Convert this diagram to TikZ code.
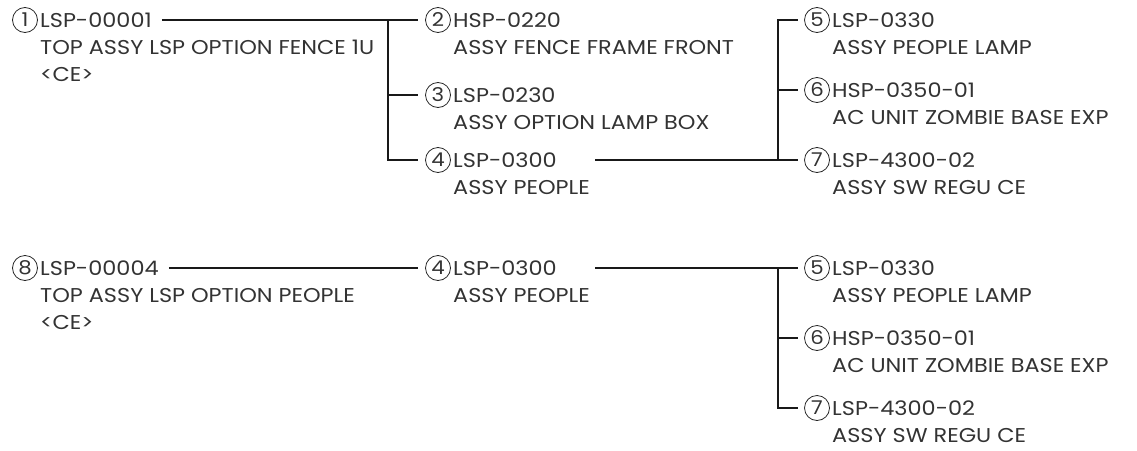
\documentclass[tikz,border=0pt]{standalone}
\usepackage{fontspec}
\setmainfont{Poppins}[FakeStretch=1.12]
\begin{document}
\begin{tikzpicture}[x=1pt,y=-1pt,
  lbl/.style={font=\fontsize{20}{27}\selectfont, text=black!80, anchor=base west, inner sep=0pt},
  num/.style={circle, draw=black!85, line width=0.8pt, minimum size=25pt, inner sep=0pt,
              font=\fontsize{19}{19}\selectfont, text=black!80},
  conn/.style={line width=1.8pt, draw=black!90},
]
\useasboundingbox (0,0) rectangle (1137,450);

% ---------- row 1 ----------
\node[num] (c1) at (25,20) {1};
\node[lbl] (t1a) at (40,27) {LSP-00001};
\node[lbl] (t1b) at (40,54) {TOP ASSY LSP OPTION FENCE 1U};
\node[lbl] (t1c) at (40,81) {<CE>};

\node[num] (c2) at (438,20) {2};
\node[lbl] (t2a) at (453,27) {HSP-0220};
\node[lbl] (t2b) at (453,54) {ASSY FENCE FRAME FRONT};

\node[num] (c3) at (438,95) {3};
\node[lbl] (t3a) at (453,102) {LSP-0230};
\node[lbl] (t3b) at (453,129) {ASSY OPTION LAMP BOX};

\node[num] (c4) at (438,160) {4};
\node[lbl] (t4a) at (453,167) {LSP-0300};
\node[lbl] (t4b) at (453,194) {ASSY PEOPLE};

\node[num] (c5) at (817,20) {5};
\node[lbl] (t5a) at (832,27) {LSP-0330};
\node[lbl] (t5b) at (832,54) {ASSY PEOPLE LAMP};

\node[num] (c6) at (817,90) {6};
\node[lbl] (t6a) at (832,97) {HSP-0350-01};
\node[lbl] (t6b) at (832,124) {AC UNIT ZOMBIE BASE EXP};

\node[num] (c7) at (817,160) {7};
\node[lbl] (t7a) at (832,167) {LSP-4300-02};
\node[lbl] (t7b) at (832,194) {ASSY SW REGU CE};

\coordinate (j1) at (388,20);
\coordinate (s4) at (595,160);
\coordinate (j4) at (778,160);

\draw[conn] ([xshift=10pt]t1a.east |- c1) -- (j1) -- ([xshift=-7pt]c2.west);
\draw[conn] (j1) |- ([xshift=-7pt]c4.west);
\draw[conn] (j1 |- c3) -- ([xshift=-7pt]c3.west);
\draw[conn] (s4) -- (j4) -- ([xshift=-6pt]c7.west);
\draw[conn] (j4) |- ([xshift=-6pt]c5.west);
\draw[conn] (j4 |- c6) -- ([xshift=-6pt]c6.west);

% ---------- row 2 ----------
\node[num] (c8) at (25,268) {8};
\node[lbl] (t8a) at (40,275) {LSP-00004};
\node[lbl] (t8b) at (40,302) {TOP ASSY LSP OPTION PEOPLE};
\node[lbl] (t8c) at (40,329) {<CE>};

\node[num] (d4) at (438,268) {4};
\node[lbl] (u4a) at (453,275) {LSP-0300};
\node[lbl] (u4b) at (453,302) {ASSY PEOPLE};

\node[num] (d5) at (817,268) {5};
\node[lbl] (u5a) at (832,275) {LSP-0330};
\node[lbl] (u5b) at (832,302) {ASSY PEOPLE LAMP};

\node[num] (d6) at (817,338) {6};
\node[lbl] (u6a) at (832,345) {HSP-0350-01};
\node[lbl] (u6b) at (832,372) {AC UNIT ZOMBIE BASE EXP};

\node[num] (d7) at (817,408) {7};
\node[lbl] (u7a) at (832,415) {LSP-4300-02};
\node[lbl] (u7b) at (832,442) {ASSY SW REGU CE};

\coordinate (s9) at (595,268);
\coordinate (j9) at (778,268);

\draw[conn] ([xshift=10pt]t8a.east |- c8) -- ([xshift=-7pt]d4.west);
\draw[conn] (s9) -- ([xshift=-6pt]d5.west);
\draw[conn] (j9) |- ([xshift=-6pt]d7.west);
\draw[conn] (j9 |- d6) -- ([xshift=-6pt]d6.west);
\end{tikzpicture}
\end{document}
